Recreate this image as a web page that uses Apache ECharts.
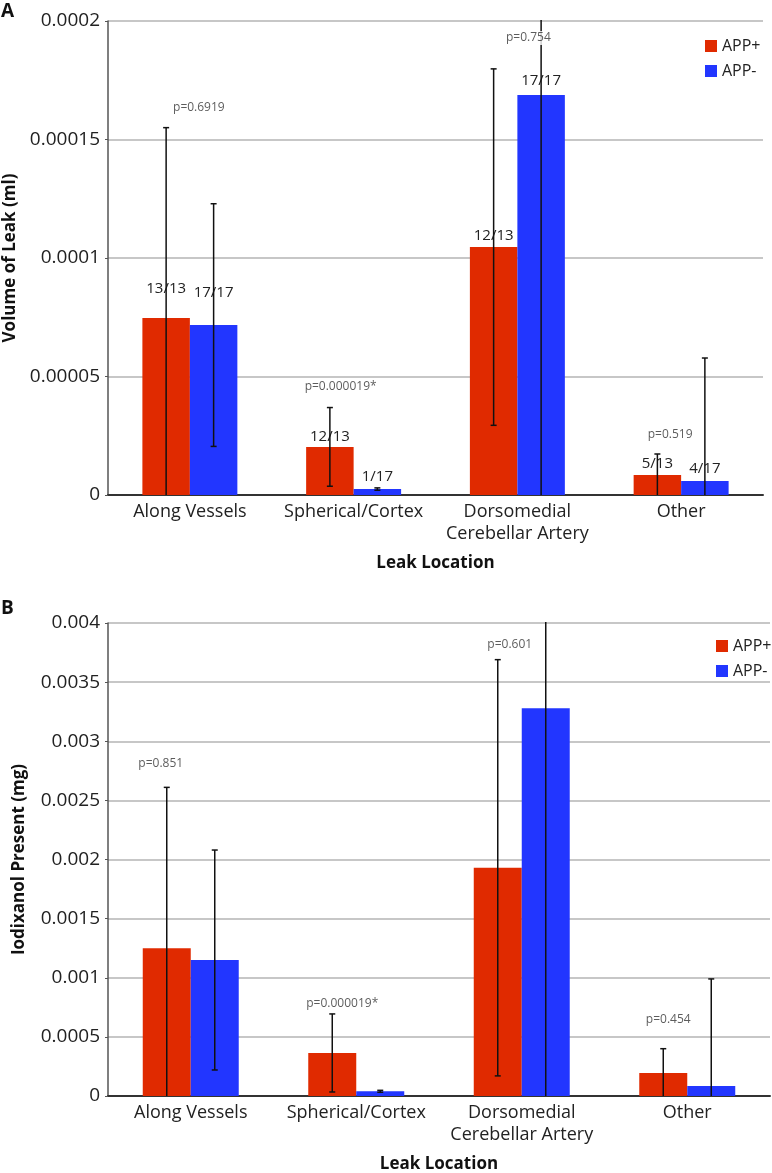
<!DOCTYPE html>
<html>
<head>
<meta charset="utf-8">
<script src="https://cdn.jsdelivr.net/npm/echarts@6/dist/echarts.min.js"></script>
<style>
html,body{margin:0;padding:0;background:#fff;}
#chart{width:772px;height:1173px;}
</style>
</head>
<body>
<div id="chart"></div>
<script>
// ---------- data ----------
const categories = ['Along Vessels', 'Spherical/Cortex', 'Dorsomedial\nCerebellar Artery', 'Other'];
const seriesNames = ['APP+', 'APP-'];

// Panel A: Volume of Leak (ml)
const volPlus = [0.0000747, 0.0000203, 0.0001046, 0.0000084];
const volPlusErr = [0.0000803, 0.0000166, 0.0000752, 0.0000089];
const volMinus = [0.0000717, 0.0000025, 0.0001688, 0.0000059];
const volMinusErr = [0.0000512, 0.0000005, 0.00018, 0.0000519];
const volCountsPlus = ['13/13', '12/13', '12/13', '5/13'];
const volCountsMinus = ['17/17', '1/17', '17/17', '4/17'];
const volPText = ['p=0.6919', 'p=0.000019*', 'p=0.754', 'p=0.519'];
const volPValueAt = [0.0001633, 0.0000456, 0.0001928, 0.0000257];
const volTicks = ['0', '0.00005', '0.0001', '0.00015', '0.0002'];

// Panel B: Iodixanol Present (mg)
const iodPlus = [0.00125, 0.000364, 0.00193, 0.000195];
const iodPlusErr = [0.00136, 0.00033, 0.00176, 0.000205];
const iodMinus = [0.00115, 0.00004, 0.00328, 0.000085];
const iodMinusErr = [0.00093, 0.000008, 0.0034, 0.000905];
const iodPText = ['p=0.851', 'p=0.000019*', 'p=0.601', 'p=0.454'];
const iodPValueAt = [0.002808, 0.000778, 0.003814, 0.000643];
const iodTicks = ['0', '0.0005', '0.001', '0.0015', '0.002', '0.0025', '0.003', '0.0035', '0.004'];

// ---------- styles ----------
const RED = '#E02A00';
const BLUE = '#2236FF';
const FONT = 'Open Sans';
const GAP = 0.42;
const volLiftPlus = [22, 3, 4, 4];
const volLiftMinus = [25, 5, 7, 5];
const volPShift = [9, -13, 11, -11];
const iodPShift = [-30, -14, -12, -19];

function errRender(params, api) {
  const cat = api.value(0), mean = api.value(1), err = api.value(2), side = api.value(3);
  const band = api.size([1, 0])[0];
  const bw = band * (1 - GAP) / 2;
  const x = api.coord([cat, mean])[0] + side * bw / 2;
  const top = api.coord([cat, mean + err])[1];
  const bot = api.coord([cat, mean - err])[1];
  const cs = params.coordSys;
  const yTop = Math.max(top, cs.y - 1);
  const yBot = Math.min(bot, cs.y + cs.height);
  const st = {stroke: '#111', lineWidth: 1.5};
  const ch = [{type: 'line', shape: {x1: x, y1: yTop, x2: x, y2: yBot}, style: st}];
  if (top >= cs.y) ch.push({type: 'line', shape: {x1: x - 3, y1: top, x2: x + 3, y2: top}, style: st});
  if (bot <= cs.y + cs.height - 1) ch.push({type: 'line', shape: {x1: x - 3, y1: bot, x2: x + 3, y2: bot}, style: st});
  return {type: 'group', children: ch};
}

function errData(means, errs, side) {
  return means.map((m, i) => [i, m, errs[i], side]);
}

function barSeries(name, idx, vals, color, counts, lifts) {
  return {
    name: name, type: 'bar', xAxisIndex: idx, yAxisIndex: idx,
    barGap: '0%', barCategoryGap: (GAP * 100) + '%',
    itemStyle: {color: color},
    data: vals.map((v, i) => counts ? {value: v, label: {distance: lifts[i]}} : v),
    label: counts ? {
      show: true, position: 'top', fontFamily: FONT, fontSize: 15, color: '#222',
      formatter: p => counts[p.dataIndex]
    } : {show: false},
    z: 2
  };
}

function pSeries(idx, texts, at, shifts) {
  return {
    type: 'scatter', xAxisIndex: idx, yAxisIndex: idx, symbolSize: 0, silent: true,
    data: at.map((v, i) => ({value: [i, v], label: {offset: [shifts[i], 0]}})),
    label: {
      show: true, position: 'inside', fontFamily: FONT, fontSize: 12, color: '#333',
      backgroundColor: '#fff', padding: [1, 2],
      formatter: p => texts[p.dataIndex]
    },
    z: 10
  };
}

function yAxis(idx, max, interval, ticks, name, gap) {
  return {
    type: 'value', gridIndex: idx, min: 0, max: max, interval: interval,
    name: name, nameLocation: 'middle', nameGap: gap,
    nameTextStyle: {fontFamily: FONT, fontSize: 17, fontWeight: 'bold', color: '#111'},
    axisLine: {show: true, lineStyle: {color: '#555', width: 1.5}},
    axisTick: {show: true, length: 3, lineStyle: {color: '#555'}},
    axisLabel: {fontFamily: FONT, fontSize: 19, color: '#222', margin: 8,
      formatter: (v, i) => ticks[i]},
    splitLine: {show: true, lineStyle: {color: '#b4b4b4', width: 1.5}}
  };
}

function xAxis(idx) {
  return {
    type: 'category', gridIndex: idx, data: categories,
    name: 'Leak Location', nameLocation: 'middle', nameGap: 60,
    nameTextStyle: {fontFamily: FONT, fontSize: 17, fontWeight: 'bold', color: '#111'},
    axisLine: {show: true, lineStyle: {color: '#333', width: 2}},
    axisTick: {show: false},
    axisLabel: {fontFamily: FONT, fontSize: 18, color: '#222', margin: 6, lineHeight: 22, interval: 0}
  };
}

const chart = echarts.init(document.getElementById('chart'), null, {renderer: 'canvas'});
chart.setOption({
  backgroundColor: '#fff',
  animation: false,
  grid: [
    {left: 108, top: 21, right: 9, height: 474, containLabel: false, outerBoundsMode: 'none'},
    {left: 108, top: 623, right: 2, height: 473, containLabel: false, outerBoundsMode: 'none'}
  ],
  xAxis: [xAxis(0), xAxis(1)],
  yAxis: [
    yAxis(0, 0.0002, 0.00005, volTicks, 'Volume of Leak (ml)', 87),
    yAxis(1, 0.004, 0.0005, iodTicks, 'Iodixanol Present (mg)', 80)
  ],
  legend: [
    {data: seriesNames, orient: 'vertical', left: 700, top: 33, itemWidth: 12, itemHeight: 12, itemGap: 9,
      icon: 'rect', textStyle: {fontFamily: FONT, fontSize: 16, color: '#222'}},
    {data: seriesNames, orient: 'vertical', left: 711, top: 633, itemWidth: 12, itemHeight: 12, itemGap: 9,
      icon: 'rect', textStyle: {fontFamily: FONT, fontSize: 16, color: '#222'}}
  ],
  graphic: [
    {type: 'text', left: 1, top: 2, style: {text: 'A', fontFamily: FONT, fontSize: 19, fontWeight: 'bold', fill: '#111'}},
    {type: 'text', left: 1, top: 599, style: {text: 'B', fontFamily: FONT, fontSize: 19, fontWeight: 'bold', fill: '#111'}}
  ],
  series: [
    barSeries('APP+', 0, volPlus, RED, volCountsPlus, volLiftPlus),
    barSeries('APP-', 0, volMinus, BLUE, volCountsMinus, volLiftMinus),
    barSeries('APP+', 1, iodPlus, RED, null, null),
    barSeries('APP-', 1, iodMinus, BLUE, null, null),
    {type: 'custom', xAxisIndex: 0, yAxisIndex: 0, renderItem: errRender, silent: true, z: 5,
      data: errData(volPlus, volPlusErr, -1).concat(errData(volMinus, volMinusErr, 1))},
    {type: 'custom', xAxisIndex: 1, yAxisIndex: 1, renderItem: errRender, silent: true, z: 5,
      data: errData(iodPlus, iodPlusErr, -1).concat(errData(iodMinus, iodMinusErr, 1))},
    pSeries(0, volPText, volPValueAt, volPShift),
    pSeries(1, iodPText, iodPValueAt, iodPShift)
  ]
});
</script>
</body>
</html>
